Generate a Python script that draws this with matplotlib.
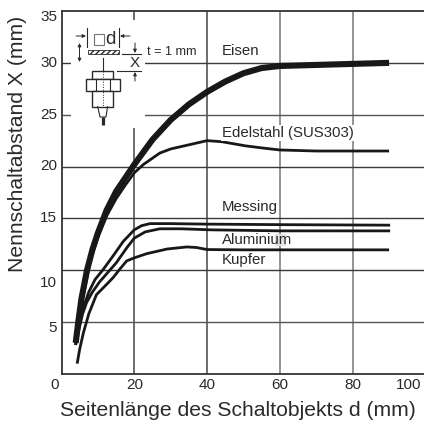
import matplotlib
matplotlib.use('Agg')
import matplotlib.pyplot as plt
from matplotlib.patches import Rectangle

plt.rcParams['font.family'] = ['Liberation Sans', 'DejaVu Sans']

# Werte
eisen_x = [3.9, 4.6, 5.5, 7, 8.5, 10, 12.4, 15, 17.5, 20, 25, 30, 35, 40, 45, 50, 55, 60, 70, 80, 90]
eisen_y = [3.0, 5.0, 7.3, 10, 12.0, 13.6, 15.8, 17.6, 18.9, 20.2, 22.6, 24.5, 26, 27.2, 28.2, 29, 29.5, 29.7, 29.8, 29.9, 30]
edel_x = [4.2, 5, 6, 8, 10, 12.5, 15, 17.5, 20, 22.5, 27, 30, 34.4, 40, 44, 50.5, 55, 60, 70, 90]
edel_y = [3.0, 5.4, 7.6, 11, 13.2, 15.3, 16.9, 18.2, 19.4, 20.2, 21.3, 21.7, 22.05, 22.5, 22.4, 22, 21.8, 21.6, 21.5, 21.5]
messing_x = [3.8, 4.5, 6, 7.5, 9.2, 11.5, 14, 17, 20, 22, 24.3, 30, 40, 60, 90.3]
messing_y = [2.8, 4.2, 6.4, 7.9, 9.1, 10.1, 11.3, 12.8, 13.9, 14.3, 14.5, 14.5, 14.45, 14.4, 14.35]
alu_x = [3.9, 4.6, 5.8, 6.9, 8.5, 10.5, 13, 15, 18, 20, 23, 27, 33, 41, 60, 90.3]
alu_y = [2.8, 4.0, 5.8, 6.9, 7.9, 8.9, 9.9, 10.7, 12.2, 13.1, 13.7, 14, 14, 13.9, 13.8, 13.8]
kupfer_x = [4.3, 5, 6, 7.5, 9.6, 12, 14.2, 16, 17.9, 20, 23.4, 29, 34.4, 37, 40, 50, 70, 90]
kupfer_y = [1.0, 2.4, 3.95, 5.8, 7.65, 8.5, 9.3, 10.1, 10.9, 11.2, 11.6, 12.05, 12.25, 12.2, 12, 11.97, 11.97, 11.97]

x_ticks = [20, 40, 60, 80]
y_ticks = [5, 10, 15, 20, 25, 30]
x_labels = ['0', '20', '40', '60', '80', '100']
y_labels = ['5', '10', '15', '20', '25', '30', '35']

dark = '#2a2a2a'
fig = plt.figure(figsize=(4.24, 4.26), dpi=100)
ax = fig.add_axes([61.5 / 424, 52 / 426, 362.5 / 424, 363 / 426])
ax.set_xlim(0, 99.6)
ax.set_ylim(0, 35)

# Gitter
for v in x_ticks:
    ax.axvline(v, color='#777777' if v > 40 else '#444444', lw=1.1, zorder=1)
for v in y_ticks:
    ax.axhline(v, color='#555555' if v in (5, 25) else '#3a3a3a', lw=1.0, zorder=1)

ax.spines['right'].set_visible(False)
for s in ['left', 'bottom', 'top']:
    ax.spines[s].set_color('#333333')
    ax.spines[s].set_linewidth(1.3)
ax.set_xticks([])
ax.set_yticks([])

ax.plot(eisen_x, eisen_y, color='#1a1718', lw=4.4, solid_capstyle='butt', zorder=3)
ax.plot(edel_x, edel_y, color='#1a1718', lw=2.0, solid_capstyle='butt', zorder=3)
ax.plot(messing_x, messing_y, color='#1a1718', lw=2.0, solid_capstyle='butt', zorder=3)
ax.plot(alu_x, alu_y, color='#1a1718', lw=2.0, solid_capstyle='butt', zorder=3)
ax.plot(kupfer_x, kupfer_y, color='#1a1718', lw=2.0, solid_capstyle='butt', zorder=3)

# Overlay in Pixeln fuer Beschriftung und Skizze
ov = fig.add_axes([0, 0, 1, 1], facecolor='none')
ov.set_xlim(0, 424)
ov.set_ylim(426, 0)
ov.axis('off')

for lab, px in zip(x_labels, [55, 134.7, 207, 280, 352.7, 408.7]):
    ov.text(px, 385, lab, ha='center', va='center', fontsize=11, color=dark)
for lab, py in zip(y_labels, [328, 283, 218, 166, 115, 63, 17]):
    ov.text(57, py, lab, ha='right', va='center', fontsize=11, color=dark)

ov.text(238, 411, 'Seitenlänge des Schaltobjekts d (mm)', ha='center', va='center', fontsize=15.2, color=dark)
ov.text(18, 143.5, 'Nennschaltabstand X (mm)', ha='center', va='center', rotation=90, fontsize=15.2, color=dark)

ov.add_patch(Rectangle((274.7, 233.7), 11.3, 12.6, fc='#e2e2e2', ec='none'))
ov.text(222, 51, 'Eisen', ha='left', va='center', fontsize=10.8, color=dark)
ov.text(222, 133, 'Edelstahl (SUS303)', ha='left', va='center', fontsize=10.8, color=dark,
        bbox=dict(fc='white', ec='none', pad=1))
ov.text(222, 207, 'Messing', ha='left', va='center', fontsize=10.8, color=dark)
ov.text(222, 240, 'Aluminium', ha='left', va='center', fontsize=10.8, color=dark)
ov.text(222, 260, 'Kupfer', ha='left', va='center', fontsize=10.8, color=dark)

# Skizze: weisser Hintergrund und Sensor
ov.add_patch(Rectangle((71, 20), 74, 108, fc='white', ec='none', zorder=0.5))
k = '#2a2a2a'
ov.add_patch(Rectangle((87.5, 49.5), 31, 4.5, fc='white', ec=k, lw=0.6, hatch='//////'))
ov.add_patch(Rectangle((93.5, 33.5), 10.5, 11.5, fc='white', ec='#777777', lw=0.8))
ov.text(105.5, 40, 'd', ha='left', va='center', fontsize=13.5, color=dark)
for x0, y0, x1, y1 in [(87, 28, 87, 47), (119, 28, 119, 47), (122, 54, 141, 54), (117, 71, 141, 71),
                       (102.7, 58, 102.7, 71)]:
    ov.plot([x0, x1], [y0, y1], color=k, lw=0.8)
# Sensorkoerper
for x0, y0, w, h in [(92, 70.7, 21, 8.3), (85.7, 79, 34.3, 11.7), (92, 90.7, 21, 16)]:
    ov.add_patch(Rectangle((x0, y0), w, h, fc='white', ec=k, lw=1.0))
for px in [95.7, 109.7]:
    ov.plot([px, px], [79, 90.7], color=k, lw=0.8)
ov.plot([102.7, 102.7], [71, 106.7], color=k, lw=0.7, ls=':')
ov.plot([97.7, 100, 106, 107.5], [106.7, 117, 117, 106.7], color=k, lw=0.8)
ov.plot([102.7, 102.7], [117, 125], color=k, lw=2.3, solid_capstyle='butt')
# Pfeile
for a, b in [((76, 36), (86, 36)), ((130, 36), (120, 36)), ((79.5, 52), (79.5, 62)),
             ((79.5, 52), (79.5, 43)), ((135, 43), (135, 53)), ((135, 81), (135, 72))]:
    ov.annotate('', xy=b, xytext=a, arrowprops=dict(arrowstyle='-|>', color=k, lw=0.7, mutation_scale=5,
                                                     shrinkA=0, shrinkB=0))
ov.text(134.5, 63, 'X', ha='center', va='center', fontsize=11, color=dark)
ov.text(147, 52, 't = 1 mm', ha='left', va='center', fontsize=9.1, color=dark)

fig.savefig('out.png', dpi=100)
